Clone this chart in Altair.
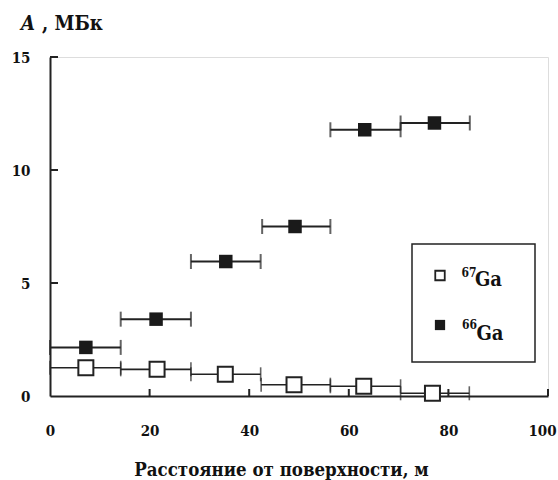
import altair as alt
import pandas as pd

# ---- data ----
x66 = [7.2, 21.3, 35.3, 49.2, 63.2, 77.2]
y66 = [2.15, 3.4, 5.95, 7.5, 11.78, 12.08]
lo66 = [0, 14.2, 28.3, 42.6, 56.3, 70.4]
hi66 = [14.2, 28.3, 42.3, 56.3, 70.4, 84.3]

x67 = [7.2, 21.5, 35.2, 49.0, 63.0, 76.8]
y67 = [1.25, 1.18, 0.96, 0.5, 0.43, 0.12]
lo67 = [0, 14.2, 28.3, 42.4, 56.3, 70.4]
hi67 = [14.2, 28.3, 42.3, 56.3, 70.4, 84.2]

x_ticks = [0, 20, 40, 60, 80, 100]
y_ticks = [0, 5, 10, 15]

FONT = "DejaVu Serif Condensed, DejaVu Serif"
W, H = 498, 339

d66 = pd.DataFrame({"x": x66, "y": y66, "lo": lo66, "hi": hi66})
d67 = pd.DataFrame({"x": x67, "y": y67, "lo": lo67, "hi": hi67})
caps66 = pd.DataFrame({"cx": lo66 + hi66, "y": y66 + y66})
caps67 = pd.DataFrame({"cx": lo67 + hi67, "y": y67 + y67})

xs = alt.Scale(domain=[0, 100], nice=False, zero=False)
ys = alt.Scale(domain=[0, 15], nice=False, zero=False)

x_axis = alt.Axis(
    values=x_ticks, tickSize=0, grid=False, domainColor="#222", domainWidth=2,
    labelFont=FONT, labelFontWeight="bold", labelFontSize=15, labelColor="#111",
    labelPadding=27, labelFlush=False,
    labelOffset={"condition": {"test": "datum.value == 100", "value": -6}, "value": 0},
    title="Расстояние от поверхности, м", titleFont=FONT,
    titleFontWeight="bold", titleFontSize=18.5, titleColor="#111",
    titleX=231, titleY=79, titleBaseline="alphabetic", titleAnchor="middle")
y_axis = alt.Axis(
    values=y_ticks, tickSize=0, grid=False, domainColor="#222", domainWidth=2,
    labelFont=FONT, labelFontWeight="bold", labelFontSize=15, labelColor="#111",
    labelPadding=20, labelFlush=False, title=None)

base66 = alt.Chart(d66)
base67 = alt.Chart(d67)

err67 = base67.mark_rule(color="#222", strokeWidth=1.6).encode(
    x=alt.X("lo:Q", scale=xs, axis=x_axis), x2="hi:Q",
    y=alt.Y("y:Q", scale=ys, axis=y_axis))
err66 = base66.mark_rule(color="#222", strokeWidth=2).encode(
    x=alt.X("lo:Q", scale=xs), x2="hi:Q", y=alt.Y("y:Q", scale=ys))
cap67 = alt.Chart(caps67).mark_tick(orient="vertical", color="#222", thickness=1.6, size=14).encode(
    x=alt.X("cx:Q", scale=xs), y=alt.Y("y:Q", scale=ys))
cap66 = alt.Chart(caps66).mark_tick(orient="vertical", color="#222", thickness=2, size=15).encode(
    x=alt.X("cx:Q", scale=xs), y=alt.Y("y:Q", scale=ys))
pt67 = base67.mark_square(size=225, fill="white", stroke="#222", strokeWidth=2, opacity=1, fillOpacity=1).encode(
    x=alt.X("x:Q", scale=xs), y=alt.Y("y:Q", scale=ys))
pt66 = base66.mark_square(size=182, color="#1a1a1a", opacity=1).encode(
    x=alt.X("x:Q", scale=xs), y=alt.Y("y:Q", scale=ys))

# inward axis ticks
ytk = alt.Chart(pd.DataFrame({"t": y_ticks[1:]})).mark_rule(color="#222", strokeWidth=2).encode(
    y=alt.Y("t:Q", scale=ys), x=alt.value(0), x2=alt.value(8))
xtk = alt.Chart(pd.DataFrame({"t": x_ticks[1:]})).mark_rule(color="#222", strokeWidth=2).encode(
    x=alt.X("t:Q", scale=xs), y=alt.value(H), y2=alt.value(H - 7))

# legend
one = pd.DataFrame({"a": [0]})
leg_box = alt.Chart(one).mark_rect(fill="white", stroke="#222", strokeWidth=1.5).encode(
    x=alt.value(362), x2=alt.value(485), y=alt.value(187), y2=alt.value(305))
leg_open = alt.Chart(one).mark_square(size=90, fill="white", stroke="#222", strokeWidth=1.8, opacity=1).encode(
    x=alt.value(390), y=alt.value(218.5))
leg_fill = alt.Chart(one).mark_square(size=105, color="#1a1a1a", opacity=1).encode(
    x=alt.value(390), y=alt.value(268))

def txt(s, x, y, size, style="normal", align="left", font=FONT):
    return alt.Chart(one).mark_text(text=s, font=font, fontWeight="bold", fontStyle=style,
                                    fontSize=size, color="#111", align=align,
                                    baseline="alphabetic").encode(x=alt.value(x), y=alt.value(y))

leg_t = (txt("67", 411.5, 219.7, 12) + txt("Ga", 425, 229, 20) +
         txt("66", 412, 272, 12) + txt("Ga", 426.5, 282.5, 20))

title = txt("A", -29, -27, 20, style="italic") + txt(", МБк", -8, -27, 20)

chart = alt.layer(
    err67, err66, cap67, cap66, pt67, pt66, ytk, xtk, leg_box, leg_open, leg_fill, leg_t, title
).properties(
    width=W, height=H,
    autosize=alt.AutoSizeParams(type="none"),
    padding={"left": 50, "top": 57, "right": 10, "bottom": 84},
).configure_view(stroke=None).configure(background="white")

chart.save("out.html", embed_options={"renderer": "svg", "actions": False})
